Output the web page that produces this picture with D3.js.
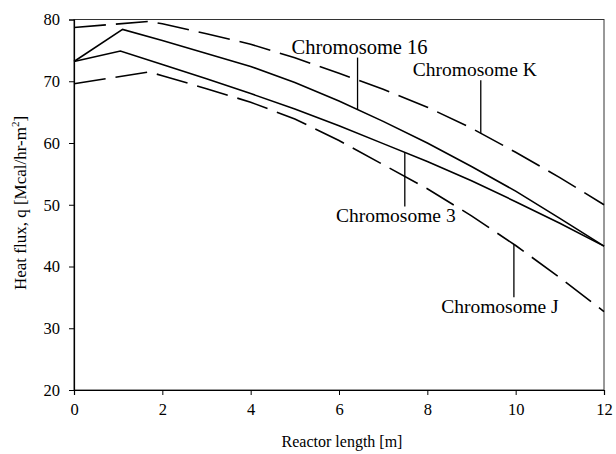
<!DOCTYPE html>
<html>
<head>
<meta charset="utf-8">
<script src="https://cdn.jsdelivr.net/npm/d3@7"></script>
<style>
  html, body { margin: 0; padding: 0; background: #fff; }
  svg { display: block; }
  text { font-family: "Liberation Serif", "Times New Roman", serif; fill: #000; }
</style>
</head>
<body>
<svg id="chart" width="616" height="454"></svg>
<script>
// ---- data ----
const xTicks = [0, 2, 4, 6, 8, 10, 12];
const yTicks = [20, 30, 40, 50, 60, 70, 80];

const chr16X = [0, 1.1, 2, 3, 4, 5, 6, 7, 8, 9, 10, 11, 12];
const chr16Y = [73.2, 78.4, 76.6, 74.5, 72.4, 69.8, 66.8, 63.5, 60.0, 56.2, 52.2, 47.8, 43.3];

const chr3X = [0, 1.05, 2, 3, 4, 5, 6, 7, 8, 9, 10, 11, 12];
const chr3Y = [73.2, 74.9, 72.7, 70.4, 68.0, 65.5, 62.8, 59.9, 57.0, 53.9, 50.5, 47.0, 43.3];

const chrKX = [0, 1.7, 2, 3, 4, 5, 6, 7, 8, 9, 10, 11, 12];
const chrKY = [78.7, 79.7, 79.3, 77.7, 76.0, 73.8, 71.3, 68.7, 65.8, 62.4, 58.5, 54.4, 50.0];

const chrJX = [0, 1.7, 2, 3, 4, 5, 6, 7, 8, 9, 10, 11, 12];
const chrJY = [69.6, 71.5, 70.9, 68.8, 66.6, 63.9, 60.4, 56.5, 52.6, 48.2, 43.4, 38.2, 32.7];

const seriesNames = ["Chromosome 16", "Chromosome 3", "Chromosome K", "Chromosome J"];

// ---- layout ----
const FONT = '"Liberation Serif", "Times New Roman", serif';
const svg = d3.select("#chart");
const mLeft = 74, mRight = 604, mTop = 19.5, mBottom = 390;

const x = d3.scaleLinear().domain([0, 12]).range([mLeft, mRight]);
const y = d3.scaleLinear().domain([20, 80]).range([mBottom, mTop]);

const series = [
  { name: seriesNames[0], xs: chr16X, ys: chr16Y, dash: null },
  { name: seriesNames[1], xs: chr3X, ys: chr3Y, dash: null },
  { name: seriesNames[2], xs: chrKX, ys: chrKY, dash: "32,10" },
  { name: seriesNames[3], xs: chrJX, ys: chrJY, dash: "32,10" }
];

// frame
svg.append("rect")
  .attr("x", mLeft).attr("y", mTop)
  .attr("width", mRight - mLeft).attr("height", mBottom - mTop)
  .attr("fill", "none").attr("stroke", "#333").attr("stroke-width", 1);

// axes
const xAxis = svg.append("g")
  .attr("transform", `translate(0,${mBottom})`)
  .call(d3.axisBottom(x).tickValues(xTicks).tickSize(5).tickPadding(8).tickFormat(d3.format("d")));
const yAxis = svg.append("g")
  .attr("transform", `translate(${mLeft},0)`)
  .call(d3.axisLeft(y).tickValues(yTicks).tickSize(5).tickPadding(9).tickFormat(d3.format("d")));

[xAxis, yAxis].forEach(g => {
  g.attr("font-family", FONT).attr("font-size", 16.5);
  g.selectAll("text").style("font-size", "16.5px").attr("fill", "#000")
    .style("font-family", FONT);
  g.selectAll("line").attr("stroke", "#000");
  g.select(".domain").attr("stroke", "#000").attr("stroke-width", 1.2);
});

// lines
const line = d3.line().x(d => x(d[0])).y(d => y(d[1]));
series.forEach(s => {
  const pts = s.xs.map((v, i) => [v, s.ys[i]]);
  svg.append("path")
    .datum(pts)
    .attr("d", line)
    .attr("fill", "none")
    .attr("stroke", "#000")
    .attr("stroke-width", 1.6)
    .attr("stroke-dasharray", s.dash);
});

// annotations: pointer at data x on series, text above/below
function valueAt(s, xv) {
  return d3.scaleLinear().domain(s.xs).range(s.ys)(xv);
}
const annotations = [
  { s: 0, at: 6.42, dir: -1, len: 52, dx: 2, size: 20.5 },
  { s: 2, at: 9.21, dir: -1, len: 53, dx: -6, size: 19.5 },
  { s: 1, at: 7.49, dir: 1, len: 54, dx: -9, size: 19.5 },
  { s: 3, at: 9.96, dir: 1, len: 53, dx: -14, size: 19.5 }
];
annotations.forEach(a => {
  const s = series[a.s];
  const px = x(a.at), py = y(valueAt(s, a.at));
  const ey = py + a.dir * a.len;
  svg.append("line")
    .attr("x1", px).attr("x2", px).attr("y1", py).attr("y2", ey)
    .attr("stroke", "#000").attr("stroke-width", 1.3);
  svg.append("text")
    .attr("x", px + a.dx)
    .attr("y", a.dir < 0 ? ey - 4 : ey + 16)
    .attr("text-anchor", "middle")
    .style("font-family", FONT)
    .style("font-size", a.size + "px")
    .text(s.name);
});

// axis titles
svg.append("text")
  .attr("x", (mLeft + mRight) / 2 + 3)
  .attr("y", 447)
  .attr("text-anchor", "middle")
  .style("font-family", FONT)
  .style("font-size", "16px")
  .text("Reactor length [m]");

const yt = svg.append("text")
  .attr("transform", "translate(26,203) rotate(-90)")
  .attr("text-anchor", "middle")
  .style("font-family", FONT)
  .style("font-size", "17px");
yt.append("tspan").text("Heat flux, q [Mcal/hr-m");
yt.append("tspan").attr("dy", -7).style("font-size", "11px").text("2");
yt.append("tspan").attr("dy", 7).text("]");
</script>
</body>
</html>
